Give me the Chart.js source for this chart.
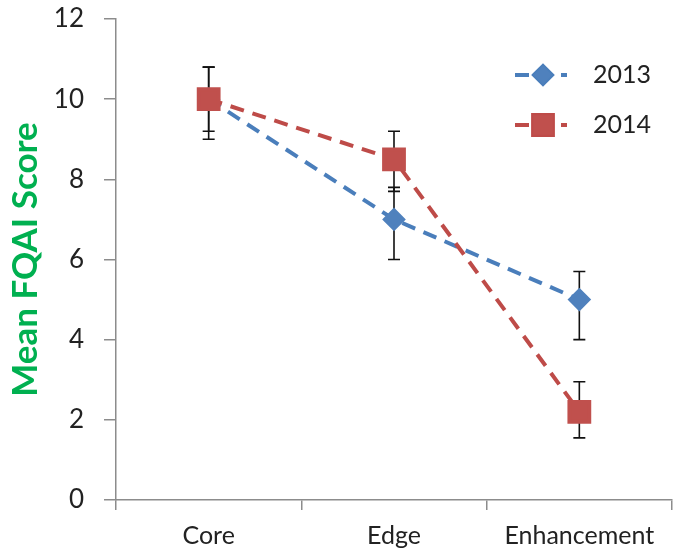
<!DOCTYPE html>
<html>
<head>
<meta charset="utf-8">
<script src="https://cdn.jsdelivr.net/npm/chart.js@4.4.1/dist/chart.umd.min.js"></script>
<style>
  html, body { margin: 0; padding: 0; background: #fff; }
  #wrap { width: 674px; height: 550px; position: relative; }
</style>
</head>
<body>
<div id="wrap"><canvas id="fqaiChart"></canvas></div>
<script>
const categories = ['Core', 'Edge', 'Enhancement'];
const yTicks = [0, 2, 4, 6, 8, 10, 12];

const mean2013 = [10, 7, 5];
const high2013 = [10.8, 7.8, 5.7];
const low2013 = [9.2, 6.0, 4.0];

const mean2014 = [10, 8.5, 2.2];
const high2014 = [10.8, 9.2, 2.95];
const low2014 = [9.0, 7.7, 1.55];

const blue = '#4A7EBB';
const red = '#BE4B48';
const axisGray = '#8C8C8C';

// error bars, drawn under the lines and markers
const errorBars = {
    id: 'errorBars',
    beforeDatasetsDraw(chart) {
        const ctx = chart.ctx;
        const y = chart.scales.y;
        ctx.save();
        ctx.strokeStyle = '#111';
        ctx.lineWidth = 1.6;
        chart.data.datasets.forEach((ds, i) => {
            const meta = chart.getDatasetMeta(i);
            meta.data.forEach((pt, j) => {
                const top = y.getPixelForValue(ds.errHigh[j]);
                const bot = y.getPixelForValue(ds.errLow[j]);
                const x = pt.x;
                ctx.beginPath();
                ctx.moveTo(x, top); ctx.lineTo(x, bot);
                ctx.moveTo(x - 6, top); ctx.lineTo(x + 6, top);
                ctx.moveTo(x - 6, bot); ctx.lineTo(x + 6, bot);
                ctx.stroke();
            });
        });
        ctx.restore();
    }
};

// legend inside the plot, top right
const insideLegend = {
    id: 'insideLegend',
    afterDraw(chart) {
        const ctx = chart.ctx;
        ctx.save();
        chart.data.datasets.forEach((ds, i) => {
            const yy = 75 + i * 50;
            ctx.strokeStyle = ds.borderColor;
            ctx.lineWidth = ds.borderWidth;
            ctx.setLineDash(ds.borderDash);
            ctx.beginPath();
            ctx.moveTo(515, yy); ctx.lineTo(567, yy);
            ctx.stroke();
            ctx.setLineDash([]);
            Chart.helpers.drawPoint(ctx, {
                pointStyle: ds.pointStyle,
                radius: ds.pointRadius,
                borderWidth: 1
            }, 543, yy);
            ctx.fillStyle = ds.pointBackgroundColor;
            ctx.strokeStyle = ds.pointBorderColor;
            ctx.fill();
            ctx.fillStyle = '#222';
            ctx.font = '25px Lato';
            ctx.textBaseline = 'middle';
            ctx.fillText(ds.label, 593, yy);
        });
        ctx.restore();
    }
};

const ctx = document.getElementById('fqaiChart').getContext('2d');

const fqaiChart = new Chart(ctx, {
    type: 'line',
    data: {
        labels: categories,
        datasets: [{
            label: '2013',
            data: mean2013,
            errHigh: high2013,
            errLow: low2013,
            borderColor: blue,
            borderWidth: 4,
            borderDash: [14, 9],
            pointStyle: 'rectRot',
            pointRadius: 9,
            pointBackgroundColor: '#4F81BD',
            pointBorderColor: '#4F81BD',
            order: 1
        }, {
            label: '2014',
            data: mean2014,
            errHigh: high2014,
            errLow: low2014,
            borderColor: red,
            borderWidth: 4,
            borderDash: [14, 9],
            pointStyle: 'rect',
            pointRadius: 14,
            pointBackgroundColor: '#C0504D',
            pointBorderColor: '#C0504D',
            order: 0
        }]
    },
    options: {
        responsive: true,
        maintainAspectRatio: false,
        animation: false,
        layout: {
            autoPadding: false,
            padding: { left: 1, top: 19, right: 2, bottom: 0 }
        },
        plugins: {
            legend: { display: false },
            tooltip: { enabled: false }
        },
        scales: {
            y: {
                min: 0,
                max: 12,
                afterBuildTicks: function (scale) {
                    scale.ticks = yTicks.map(v => ({ value: v }));
                },
                afterFit: function (scale) {
                    scale.width = 115;
                    scale.paddingTop = 0;
                    scale.paddingBottom = 0;
                },
                border: { color: axisGray, width: 1.5 },
                grid: {
                    drawOnChartArea: false,
                    color: axisGray,
                    tickLength: 12,
                    lineWidth: 1.5
                },
                ticks: {
                    color: '#222',
                    padding: 20,
                    font: { family: 'Lato', size: 26 }
                },
                title: {
                    display: true,
                    text: 'Mean FQAI Score',
                    color: '#00B050',
                    font: { family: 'Lato', size: 35, weight: 'bold' }
                }
            },
            x: {
                offset: true,
                afterFit: function (scale) {
                    scale.height = 50;
                    scale.paddingLeft = 0;
                    scale.paddingRight = 0;
                },
                border: { color: axisGray, width: 1.5 },
                grid: {
                    offset: true,
                    drawOnChartArea: false,
                    color: axisGray,
                    tickLength: 10,
                    lineWidth: 1.5
                },
                ticks: {
                    color: '#222',
                    padding: 11,
                    font: { family: 'Lato', size: 25 }
                }
            }
        }
    },
    plugins: [errorBars, insideLegend]
});
</script>
</body>
</html>
